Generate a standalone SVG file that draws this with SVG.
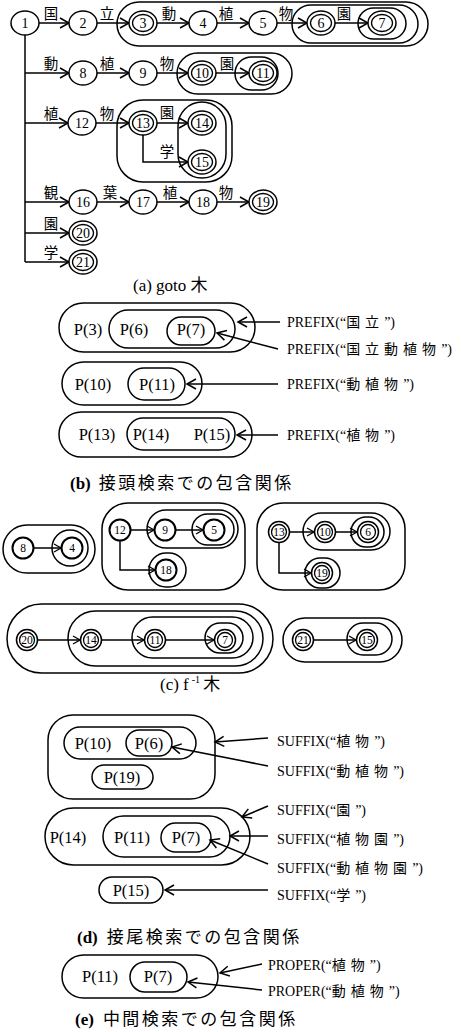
<svg xmlns="http://www.w3.org/2000/svg" width="461" height="1032" viewBox="0 0 461 1032">
<style>
.n{fill:#fff;stroke:#000;stroke-width:1.5}
.k{fill:#fff;stroke:#000;stroke-width:2}
.i{fill:none;stroke:#000;stroke-width:1.3}
.c{fill:none;stroke:#000;stroke-width:1.5}
.e{fill:none;stroke:#000;stroke-width:1.5}
.t{font-family:'Liberation Serif','Noto Sans CJK JP',serif;font-size:14px;text-anchor:middle;fill:#000}
.s{font-family:'Liberation Serif','Noto Sans CJK JP',serif;font-size:11.5px;text-anchor:middle;fill:#000}
.j{font-family:'Noto Sans CJK JP',sans-serif;font-size:14.5px;text-anchor:middle;fill:#000}
.p{font-family:'Liberation Serif','Noto Sans CJK JP',serif;font-size:16.5px;text-anchor:middle;fill:#000}
.f{font-family:'Liberation Serif','Noto Sans CJK JP',serif;font-size:14px;fill:#000}
.f tspan.z{font-family:'Noto Sans CJK JP',sans-serif;font-size:14px;letter-spacing:5px}
.cap{font-family:'Liberation Serif','Noto Sans CJK JP',serif;font-size:17px;fill:#000}
.cap tspan.z{font-family:'Noto Sans CJK JP',sans-serif;letter-spacing:2.5px}
</style>
<defs>
<marker id="ar" markerUnits="userSpaceOnUse" markerWidth="12" markerHeight="12" refX="9" refY="5" orient="auto" overflow="visible">
<path d="M0,0 L9,5 L0,10" fill="none" stroke="#000" stroke-width="1.5"/>
</marker>
<marker id="as" markerUnits="userSpaceOnUse" markerWidth="10" markerHeight="10" refX="7" refY="4" orient="auto" overflow="visible">
<path d="M0,0 L7,4 L0,8" fill="none" stroke="#000" stroke-width="1.3"/>
</marker>
</defs>

<!-- (a) goto tree containers -->
<g id="a-containers">
<rect class="c" x="117" y="2" width="311" height="44" rx="22"/>
<rect class="c" x="292" y="5" width="126" height="38" rx="19"/>
<rect class="c" x="358" y="8" width="48" height="31" rx="15.5"/>
<rect class="c" x="177" y="53" width="115" height="41" rx="20.5"/>
<rect class="c" x="235" y="57" width="43" height="33" rx="16.5"/>
<rect class="c" x="117" y="100" width="115" height="82" rx="26"/>
<rect class="c" x="178" y="102" width="48" height="76" rx="24"/>
</g>

<!-- (a) connectors -->
<g id="a-edges" class="e">
<path d="M25,35 V262"/>
<line x1="39" y1="23" x2="69" y2="23" marker-end="url(#ar)"/>
<line x1="97" y1="23" x2="129" y2="23" marker-end="url(#ar)"/>
<line x1="157" y1="23" x2="189" y2="23" marker-end="url(#ar)"/>
<line x1="217" y1="23" x2="249" y2="23" marker-end="url(#ar)"/>
<line x1="277" y1="23" x2="307" y2="23" marker-end="url(#ar)"/>
<line x1="335" y1="23" x2="368" y2="23" marker-end="url(#ar)"/>
<line x1="25" y1="73" x2="69" y2="73" marker-end="url(#ar)"/>
<line x1="97" y1="73" x2="129" y2="73" marker-end="url(#ar)"/>
<line x1="157" y1="73" x2="188" y2="73" marker-end="url(#ar)"/>
<line x1="216" y1="73" x2="249" y2="73" marker-end="url(#ar)"/>
<line x1="25" y1="123" x2="68" y2="123" marker-end="url(#ar)"/>
<line x1="96" y1="123" x2="129" y2="123" marker-end="url(#ar)"/>
<line x1="157" y1="123" x2="188" y2="123" marker-end="url(#ar)"/>
<path d="M143,135 V162 H188" marker-end="url(#ar)"/>
<line x1="25" y1="202" x2="69" y2="202" marker-end="url(#ar)"/>
<line x1="97" y1="202" x2="129" y2="202" marker-end="url(#ar)"/>
<line x1="157" y1="202" x2="189" y2="202" marker-end="url(#ar)"/>
<line x1="217" y1="202" x2="249" y2="202" marker-end="url(#ar)"/>
<line x1="25" y1="233" x2="69" y2="233" marker-end="url(#ar)"/>
<line x1="25" y1="262" x2="69" y2="262" marker-end="url(#ar)"/>
</g>

<!-- (a) edge labels -->
<g id="a-labels" class="j">
<text x="51" y="19">国</text><text x="107" y="19">立</text><text x="169" y="19">動</text><text x="226" y="19">植</text><text x="286" y="19">物</text><text x="344" y="19">園</text>
<text x="51" y="69">動</text><text x="107" y="69">植</text><text x="167" y="69">物</text><text x="227" y="69">園</text>
<text x="51" y="119">植</text><text x="107" y="119">物</text><text x="167" y="118">園</text><text x="167" y="157">学</text>
<text x="51" y="198">観</text><text x="110" y="198">葉</text><text x="170" y="198">植</text><text x="226" y="198">物</text>
<text x="51" y="229">園</text>
<text x="51" y="258">学</text>
</g>

<!-- (a) nodes -->
<g id="a1"><ellipse class="n" cx="25" cy="23" rx="14" ry="12"/><text class="t" x="25" y="28">1</text></g>
<g id="a2"><ellipse class="n" cx="83" cy="23" rx="14" ry="12"/><text class="t" x="83" y="28">2</text></g>
<g id="a3"><ellipse class="n" cx="143" cy="23" rx="14" ry="12"/><ellipse class="i" cx="143" cy="23" rx="10.5" ry="8.5"/><text class="t" x="143" y="28">3</text></g>
<g id="a4"><ellipse class="n" cx="203" cy="23" rx="14" ry="12"/><text class="t" x="203" y="28">4</text></g>
<g id="a5"><ellipse class="n" cx="263" cy="23" rx="14" ry="12"/><text class="t" x="263" y="28">5</text></g>
<g id="a6"><ellipse class="n" cx="321" cy="23" rx="14" ry="12"/><ellipse class="i" cx="321" cy="23" rx="10.5" ry="8.5"/><text class="t" x="321" y="28">6</text></g>
<g id="a7"><ellipse class="n" cx="382" cy="23" rx="14" ry="12"/><ellipse class="i" cx="382" cy="23" rx="10.5" ry="8.5"/><text class="t" x="382" y="28">7</text></g>
<g id="a8"><ellipse class="n" cx="83" cy="73" rx="14" ry="12"/><text class="t" x="83" y="78">8</text></g>
<g id="a9"><ellipse class="n" cx="143" cy="73" rx="14" ry="12"/><text class="t" x="143" y="78">9</text></g>
<g id="a10"><ellipse class="n" cx="202" cy="73" rx="14" ry="12"/><ellipse class="i" cx="202" cy="73" rx="10.5" ry="8.5"/><text class="t" x="202" y="78">10</text></g>
<g id="a11"><ellipse class="n" cx="263" cy="73" rx="14" ry="12"/><ellipse class="i" cx="263" cy="73" rx="10.5" ry="8.5"/><text class="t" x="263" y="78">11</text></g>
<g id="a12"><ellipse class="n" cx="82" cy="123" rx="14" ry="12"/><text class="t" x="82" y="128">12</text></g>
<g id="a13"><ellipse class="n" cx="143" cy="123" rx="14" ry="12"/><ellipse class="i" cx="143" cy="123" rx="10.5" ry="8.5"/><text class="t" x="143" y="128">13</text></g>
<g id="a14"><ellipse class="n" cx="202" cy="123" rx="14" ry="12"/><ellipse class="i" cx="202" cy="123" rx="10.5" ry="8.5"/><text class="t" x="202" y="128">14</text></g>
<g id="a15"><ellipse class="n" cx="202" cy="162" rx="14" ry="12"/><ellipse class="i" cx="202" cy="162" rx="10.5" ry="8.5"/><text class="t" x="202" y="167">15</text></g>
<g id="a16"><ellipse class="n" cx="83" cy="202" rx="14" ry="12"/><text class="t" x="83" y="207">16</text></g>
<g id="a17"><ellipse class="n" cx="143" cy="202" rx="14" ry="12"/><text class="t" x="143" y="207">17</text></g>
<g id="a18"><ellipse class="n" cx="203" cy="202" rx="14" ry="12"/><text class="t" x="203" y="207">18</text></g>
<g id="a19"><ellipse class="n" cx="263" cy="202" rx="14" ry="12"/><ellipse class="i" cx="263" cy="202" rx="10.5" ry="8.5"/><text class="t" x="263" y="207">19</text></g>
<g id="a20"><ellipse class="n" cx="83" cy="233" rx="14" ry="12"/><ellipse class="i" cx="83" cy="233" rx="10.5" ry="8.5"/><text class="t" x="83" y="238">20</text></g>
<g id="a21"><ellipse class="n" cx="83" cy="262" rx="14" ry="12"/><ellipse class="i" cx="83" cy="262" rx="10.5" ry="8.5"/><text class="t" x="83" y="267">21</text></g>

<text class="cap" x="133" y="291">(a) goto 木</text>

<!-- (b) prefix inclusion -->
<g id="b-row1">
<rect class="c" x="59" y="303" width="196" height="49" rx="24.5"/>
<rect class="c" x="109" y="310" width="126" height="38" rx="19"/>
<rect class="c" x="167" y="317" width="48" height="28" rx="14"/>
<text class="p" x="88" y="335">P(3)</text><text class="p" x="134" y="335">P(6)</text><text class="p" x="191" y="335">P(7)</text>
</g>
<g id="b-row2">
<rect class="c" x="62" y="362" width="140" height="43" rx="21.5"/>
<rect class="c" x="128" y="368" width="57" height="32" rx="16"/>
<text class="p" x="93" y="390">P(10)</text><text class="p" x="157" y="390">P(11)</text>
</g>
<g id="b-row3">
<rect class="c" x="59" y="412" width="193" height="45" rx="22.5"/>
<rect class="c" x="127" y="418" width="108" height="32" rx="16"/>
<text class="p" x="97" y="440">P(13)</text><text class="p" x="151" y="440">P(14)</text><text class="p" x="212" y="440">P(15)</text>
</g>
<g id="b-labels">
<text class="f" x="287" y="327">PREFIX(“<tspan class="z">国立</tspan>”)</text>
<text class="f" x="287" y="354">PREFIX(“<tspan class="z">国立動植物</tspan>”)</text>
<text class="f" x="287" y="389">PREFIX(“<tspan class="z">動植物</tspan>”)</text>
<text class="f" x="287" y="440">PREFIX(“<tspan class="z">植物</tspan>”)</text>
</g>
<g id="b-edges" class="e">
<line x1="280" y1="322" x2="238" y2="322" marker-end="url(#ar)"/>
<line x1="278" y1="349" x2="217" y2="333" marker-end="url(#ar)"/>
<line x1="278" y1="384" x2="187" y2="384" marker-end="url(#ar)"/>
<line x1="278" y1="435" x2="237" y2="435" marker-end="url(#ar)"/>
</g>
<text class="cap" x="70" y="489" font-weight="bold">(b)<tspan class="z" font-weight="normal" dx="8">接頭検索での包含関係</tspan></text>

<!-- (c) f^-1 tree -->
<g id="c-containers">
<rect class="c" x="3" y="525" width="92" height="48" rx="24"/>
<rect class="c" x="52" y="530" width="36" height="36" rx="18"/>
<rect class="c" x="102" y="503" width="143" height="87" rx="26"/>
<rect class="c" x="147" y="510" width="91" height="38" rx="19"/>
<rect class="c" x="192" y="514" width="42" height="31" rx="15.5"/>
<rect class="c" x="149" y="553" width="37" height="34" rx="17"/>
<rect class="c" x="257" y="503" width="148" height="87" rx="26"/>
<rect class="c" x="303" y="513" width="87" height="37" rx="18.5"/>
<rect class="c" x="351" y="517" width="33" height="30" rx="15"/>
<rect class="c" x="305" y="558" width="35" height="30" rx="15"/>
<rect class="c" x="7" y="604" width="266" height="69" rx="34.5"/>
<rect class="c" x="68" y="611" width="195" height="55" rx="27.5"/>
<rect class="c" x="132" y="617" width="121" height="41" rx="20.5"/>
<rect class="c" x="205" y="623" width="38" height="30" rx="15"/>
<rect class="c" x="283" y="618" width="119" height="44" rx="22"/>
<rect class="c" x="347" y="623" width="45" height="32" rx="16"/>
</g>
<g id="c-edges" class="e">
<line x1="34" y1="548" x2="61" y2="548" marker-end="url(#as)"/>
<line x1="131" y1="530" x2="154" y2="530" marker-end="url(#as)"/>
<line x1="176" y1="530" x2="203" y2="530" marker-end="url(#as)"/>
<path d="M120,541 V570 H155" marker-end="url(#as)"/>
<line x1="290" y1="532" x2="314" y2="532" marker-end="url(#as)"/>
<line x1="336" y1="532" x2="357" y2="532" marker-end="url(#as)"/>
<path d="M279,543 V573 H311" marker-end="url(#as)"/>
<line x1="38" y1="640" x2="80" y2="640" marker-end="url(#as)"/>
<line x1="102" y1="640" x2="144" y2="640" marker-end="url(#as)"/>
<line x1="166" y1="640" x2="214" y2="640" marker-end="url(#as)"/>
<line x1="314" y1="640" x2="356" y2="640" marker-end="url(#as)"/>
</g>
<g id="c8"><circle class="k" cx="23" cy="548" r="10.5"/><text class="s" x="23" y="552">8</text></g>
<g id="c4"><circle class="k" cx="72" cy="548" r="10.5"/><text class="s" x="72" y="552">4</text></g>
<g id="c12"><circle class="k" cx="120" cy="530" r="10.5"/><text class="s" x="120" y="534">12</text></g>
<g id="c9"><circle class="k" cx="165" cy="530" r="10.5"/><text class="s" x="165" y="534">9</text></g>
<g id="c5"><circle class="k" cx="214" cy="530" r="10.5"/><text class="s" x="214" y="534">5</text></g>
<g id="c18"><circle class="k" cx="166" cy="570" r="10.5"/><text class="s" x="166" y="574">18</text></g>
<g id="c13"><circle class="n" cx="279" cy="532" r="10.5"/><circle class="i" cx="279" cy="532" r="7.5"/><text class="s" x="279" y="536">13</text></g>
<g id="c10"><circle class="n" cx="325" cy="532" r="10.5"/><circle class="i" cx="325" cy="532" r="7.5"/><text class="s" x="325" y="536">10</text></g>
<g id="c6"><circle class="n" cx="368" cy="532" r="10.5"/><circle class="i" cx="368" cy="532" r="7.5"/><text class="s" x="368" y="536">6</text></g>
<g id="c19"><circle class="n" cx="322" cy="573" r="10.5"/><circle class="i" cx="322" cy="573" r="7.5"/><text class="s" x="322" y="577">19</text></g>
<g id="c20"><circle class="n" cx="27" cy="640" r="10.5"/><circle class="i" cx="27" cy="640" r="7.5"/><text class="s" x="27" y="644">20</text></g>
<g id="c14"><circle class="n" cx="91" cy="640" r="10.5"/><circle class="i" cx="91" cy="640" r="7.5"/><text class="s" x="91" y="644">14</text></g>
<g id="c11"><circle class="n" cx="155" cy="640" r="10.5"/><circle class="i" cx="155" cy="640" r="7.5"/><text class="s" x="155" y="644">11</text></g>
<g id="c7"><circle class="n" cx="225" cy="640" r="10.5"/><circle class="i" cx="225" cy="640" r="7.5"/><text class="s" x="225" y="644">7</text></g>
<g id="c21"><circle class="n" cx="303" cy="640" r="10.5"/><circle class="i" cx="303" cy="640" r="7.5"/><text class="s" x="303" y="644">21</text></g>
<g id="c15"><circle class="n" cx="367" cy="640" r="10.5"/><circle class="i" cx="367" cy="640" r="7.5"/><text class="s" x="367" y="644">15</text></g>
<text class="cap" x="160" y="690">(c) f<tspan font-size="10" dx="3" dy="-7">-1</tspan><tspan dy="7" dx="3">木</tspan></text>

<!-- (d) suffix inclusion -->
<g id="d-grp1">
<rect class="c" x="48" y="715" width="167" height="84" rx="25"/>
<rect class="c" x="64" y="727" width="132" height="32" rx="16"/>
<rect class="c" x="126" y="730" width="46" height="26" rx="13"/>
<rect class="c" x="92" y="765" width="61" height="24" rx="12"/>
<text class="p" x="93" y="749">P(10)</text><text class="p" x="149" y="749">P(6)</text><text class="p" x="122" y="783">P(19)</text>
</g>
<g id="d-grp2">
<rect class="c" x="45" y="808" width="205" height="57" rx="28.5"/>
<rect class="c" x="103" y="816" width="127" height="41" rx="20.5"/>
<rect class="c" x="161" y="823" width="50" height="29" rx="14.5"/>
<text class="p" x="68" y="843">P(14)</text><text class="p" x="132" y="843">P(11)</text><text class="p" x="186" y="843">P(7)</text>
</g>
<g id="d-grp3">
<rect class="c" x="99" y="877" width="64" height="26" rx="13"/>
<text class="p" x="131" y="896">P(15)</text>
</g>
<g id="d-labels">
<text class="f" x="277" y="746">SUFFIX(“<tspan class="z">植物</tspan>”)</text>
<text class="f" x="277" y="776">SUFFIX(“<tspan class="z">動植物</tspan>”)</text>
<text class="f" x="277" y="815">SUFFIX(“<tspan class="z">園</tspan>”)</text>
<text class="f" x="277" y="844">SUFFIX(“<tspan class="z">植物園</tspan>”)</text>
<text class="f" x="277" y="873">SUFFIX(“<tspan class="z">動植物園</tspan>”)</text>
<text class="f" x="277" y="900">SUFFIX(“<tspan class="z">学</tspan>”)</text>
</g>
<g id="d-edges" class="e">
<line x1="268" y1="738" x2="215" y2="742" marker-end="url(#ar)"/>
<line x1="268" y1="766" x2="172" y2="747" marker-end="url(#ar)"/>
<line x1="268" y1="806" x2="242" y2="817" marker-end="url(#ar)"/>
<line x1="268" y1="836" x2="230" y2="836" marker-end="url(#ar)"/>
<line x1="268" y1="864" x2="210" y2="840" marker-end="url(#ar)"/>
<line x1="268" y1="890" x2="165" y2="890" marker-end="url(#ar)"/>
</g>
<text class="cap" x="77" y="943" font-weight="bold">(d)<tspan class="z" font-weight="normal" dx="9">接尾検索での包含関係</tspan></text>

<!-- (e) proper inclusion -->
<g id="e-grp">
<rect class="c" x="62" y="955" width="156" height="43" rx="21.5"/>
<rect class="c" x="130" y="962" width="57" height="30" rx="15"/>
<text class="p" x="100" y="982">P(11)</text><text class="p" x="158" y="982">P(7)</text>
</g>
<g id="e-labels">
<text class="f" x="268" y="970">PROPER(“<tspan class="z">植物</tspan>”)</text>
<text class="f" x="268" y="996">PROPER(“<tspan class="z">動植物</tspan>”)</text>
</g>
<g id="e-edges" class="e">
<line x1="262" y1="964" x2="220" y2="973" marker-end="url(#ar)"/>
<line x1="262" y1="990" x2="188" y2="982" marker-end="url(#ar)"/>
</g>
<text class="cap" x="75" y="1025" font-weight="bold">(e)<tspan class="z" font-weight="normal" dx="9">中間検索での包含関係</tspan></text>
</svg>
